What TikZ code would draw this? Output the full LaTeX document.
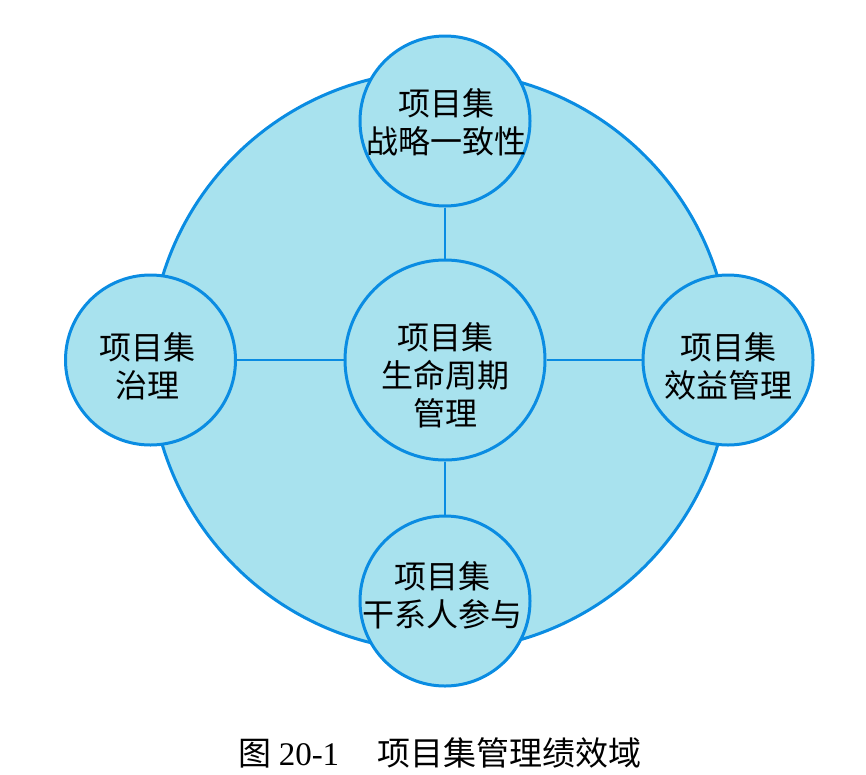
\documentclass[tikz,border=0pt]{standalone}
\usepackage{fontspec}
\newfontfamily\cjk{Noto Sans CJK SC}
\newfontfamily\latinserif{Liberation Serif}
\definecolor{domainfill}{HTML}{A8E2EE}
\definecolor{domainline}{HTML}{0A8CE2}
\begin{document}
\begin{tikzpicture}[x=1pt,y=-1pt,
  disc/.style={circle,draw=domainline,fill=domainfill,line width=3pt,inner sep=0pt},
  outer/.style={disc,minimum size=170pt},
  link/.style={draw=domainline,line width=2.8pt},
  lbl/.style={font=\cjk\fontsize{32}{38}\selectfont,align=center,text=black,inner sep=0pt}]
\useasboundingbox (0,0) rectangle (866,774);

% performance domain field
\node[disc,minimum size=580pt] (field) at (440,361) {};

% central and surrounding domains
\node[disc,minimum size=200pt] (core) at (445,360) {};
\node[outer] (align) at (445,121) {};
\node[outer] (gov) at (150.5,360) {};
\node[outer] (benefit) at (728,360) {};
\node[outer] (stake) at (445,601) {};

% spokes from the core
\draw[link] (core) -- (align);
\draw[link] (core) -- (gov);
\draw[link] (core) -- (benefit);
\draw[link] (core) -- (stake);

% domain names
\node[lbl] (alignText) at (446,122) {项目集\\战略一致性};
\node[lbl] (govText) at (147,366) {项目集\\治理};
\node[lbl] (benefitText) at (728,366) {项目集\\效益管理};
\node[lbl] (stakeText) at (442,595) {项目集\\干系人参与};
\node[lbl] (coreText) at (445,375) {项目集\\生命周期\\管理};

% figure caption
\node[font=\cjk\fontsize{33}{38}\selectfont,inner sep=0pt] (caption) at (440,753)
  {图\hspace{7pt}{\latinserif 20-1}\hspace{38pt}项目集管理绩效域};
\end{tikzpicture}
\end{document}
